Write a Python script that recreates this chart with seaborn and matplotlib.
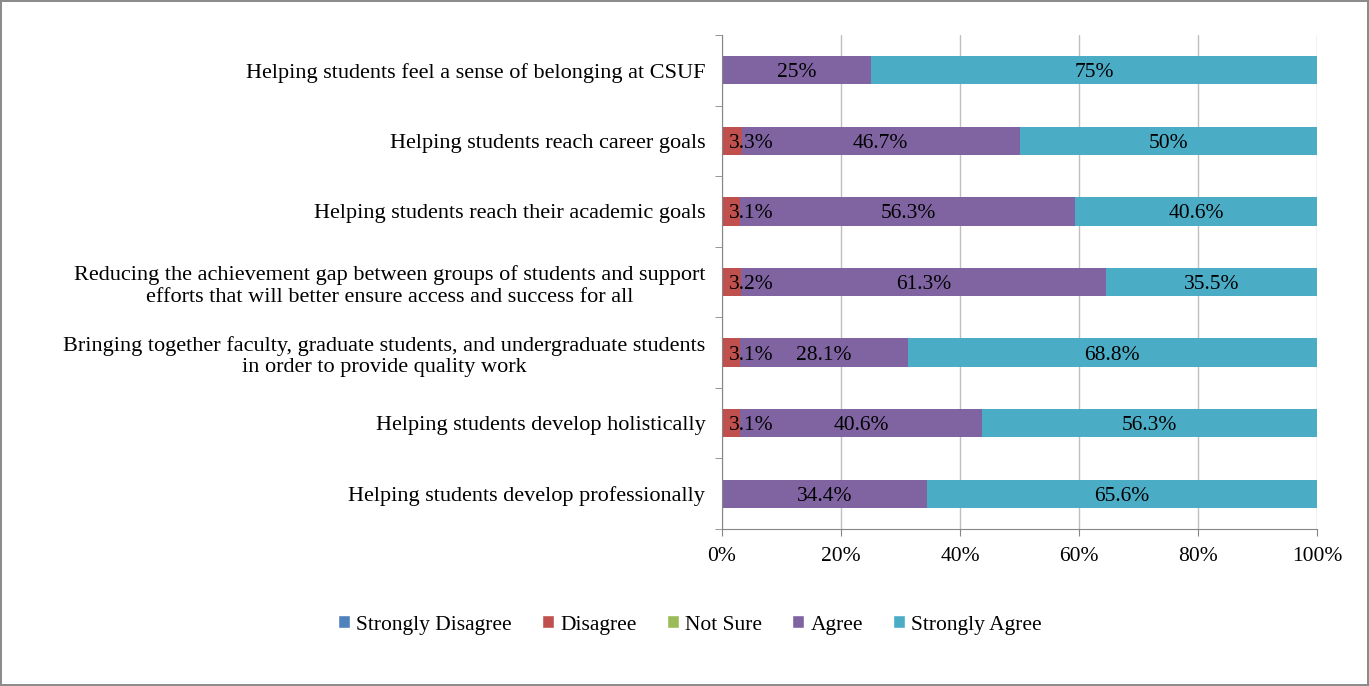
import matplotlib.pyplot as plt
import numpy as np
import pandas as pd
import seaborn as sns
from matplotlib.patches import Patch

# Данные графика.
statements = [
    'Helping students feel a sense of belonging at CSUF',
    'Helping students reach career goals',
    'Helping students reach their academic goals',
    'Reducing the achievement gap between groups of students and support\n'
    'efforts that will better ensure access and success for all',
    'Bringing together faculty, graduate students, and undergraduate students\n'
    'in order to provide quality work',
    'Helping students develop holistically',
    'Helping students develop professionally',
]
responses = ['Strongly Disagree', 'Disagree', 'Not Sure', 'Agree', 'Strongly Agree']
strongly_disagree = [0, 0, 0, 0, 0, 0, 0]
disagree = [0, 3.3, 3.1, 3.2, 3.1, 3.1, 0]
not_sure = [0, 0, 0, 0, 0, 0, 0]
agree = [25, 46.7, 56.3, 61.3, 28.1, 40.6, 34.4]
strongly_agree = [75, 50, 40.6, 35.5, 68.8, 56.3, 65.6]
x_ticks = [0, 20, 40, 60, 80, 100]

colors = ['#4F81BD', '#C0504D', '#9BBB59', '#8064A2', '#4BACC6']

sns.set_style('white')
plt.rcParams['font.family'] = ['Liberation Serif', 'DejaVu Serif']
plt.rcParams['font.size'] = 15.5
plt.rcParams['text.color'] = 'black'
plt.rcParams['xtick.color'] = 'black'
plt.rcParams['ytick.color'] = 'black'

data = pd.DataFrame(
    data=dict(zip(responses, [strongly_disagree, disagree, not_sure, agree, strongly_agree])),
    index=statements
)
cumulative = data.cumsum(axis=1)

figure = plt.figure(figsize=(13.69, 6.86), dpi=100)
figure.patch.set_edgecolor('#8C8C8C')
figure.patch.set_linewidth(1.5)
ax = figure.add_axes([722 / 1369, 1 - 529 / 686, 595 / 1369, 494 / 686])

# Накладываем накопленные суммы от большей к меньшей.
for response, color in reversed(list(zip(responses, colors))):
    sns.barplot(
        x=cumulative[response].values,
        y=statements,
        orient='h',
        color=color,
        width=0.4,
        saturation=1,
        linewidth=0,
        ax=ax,
        zorder=2
    )

# Подписи сегментов.
for i, statement in enumerate(statements):
    left = 0
    for response in responses:
        value = data.loc[statement, response]
        if value > 0:
            label = f'{value:g}%'
            if value < 5:
                ax.text(left + 1.2, i, label, ha='left', va='center_baseline', zorder=3)
            else:
                ax.text(left + value / 2, i, label, ha='center', va='center_baseline', zorder=3)
        left += value

ax.set_xlim(0, 100)
ax.set_ylim(len(statements) - 0.5, -0.5)
ax.set_xticks(x_ticks)
ax.set_xticklabels([f'{t}%' for t in x_ticks])
ax.set_yticks(range(len(statements)))
ax.set_yticklabels(statements, multialignment='center', linespacing=1.2, fontsize=16)
ax.set_yticks(np.arange(-0.5, len(statements)), minor=True)
ax.tick_params(axis='y', which='major', length=0, pad=12)
ax.tick_params(axis='y', which='minor', length=5, color='#868686', direction='out', left=True)
ax.tick_params(axis='x', length=5, color='#868686', direction='out', bottom=True, pad=8)
ax.set_xlabel('')
ax.set_ylabel('')

ax.grid(axis='x', color='#BFBFBF', linewidth=1, zorder=0)
ax.set_axisbelow(True)
for s in 'top', 'right':
    ax.spines[s].set_visible(False)
for s in 'left', 'bottom':
    ax.spines[s].set_color('#868686')

handles = [Patch(facecolor=c, label=r) for r, c in zip(responses, colors)]
figure.legend(
    handles=handles,
    loc='center',
    bbox_to_anchor=(690 / 1369, 1 - 625 / 686),
    ncol=5,
    frameon=False,
    handlelength=0.55,
    handleheight=0.55,
    handletextpad=0.3,
    columnspacing=1.4
)

figure.savefig('out.png', dpi=100, edgecolor=figure.get_edgecolor())
